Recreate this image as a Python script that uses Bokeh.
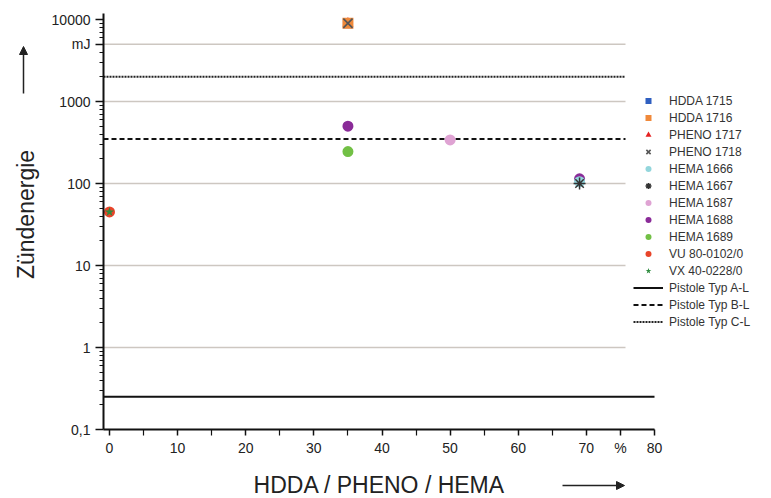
import math
from bokeh.plotting import figure
from bokeh.models import (FixedTicker, Legend, LegendItem, Arrow, NormalHead,
                          Range1d, Label, LinearAxis, LogAxis)
from bokeh.embed import file_html
from bokeh.resources import INLINE

# ---- data ----
series_names = ["HDDA 1715", "HDDA 1716", "PHENO 1717", "PHENO 1718", "HEMA 1666",
                "HEMA 1667", "HEMA 1687", "HEMA 1688", "HEMA 1689",
                "VU 80-0102/0", "VX 40-0228/0"]
hdda_1715_x = [35];  hdda_1715_y = [9000]
hdda_1716_x = [35];  hdda_1716_y = [9000]
pheno_1717_x = [35]; pheno_1717_y = [9000]
pheno_1718_x = [35]; pheno_1718_y = [9000]
hema_1666_x = [69];  hema_1666_y = [105]
hema_1667_x = [69];  hema_1667_y = [100]
hema_1687_x = [50];  hema_1687_y = [340]
hema_1688_x = [35, 69]; hema_1688_y = [500, 114]
hema_1689_x = [35];  hema_1689_y = [245]
vu_x = [0]; vu_y = [45]
vx_x = [0]; vx_y = [45]

pistole_names = ["Pistole Typ A-L", "Pistole Typ B-L", "Pistole Typ C-L"]
pistole_values = [0.25, 350, 2000]

x_ticks = [0, 10, 20, 30, 40, 50, 60, 70, 75, 80]
x_tick_labels = ["0", "10", "20", "30", "40", "50", "60", "70", "%", "80"]
x_minor_ticks = [5, 15, 25, 35, 45, 55, 65]
y_ticks = [0.1, 1, 10, 100, 1000, 5000, 10000]
y_tick_labels = ["0,1", "1", "10", "100", "1000", "mJ", "10000"]
grid_values = [1, 10, 100, 1000, 5000]

x_title = "HDDA / PHENO / HEMA"
y_title = "Zündenergie"

# ---- layout: the frame covers the whole canvas, axes are pinned inside it ----
W, H = 763, 497
FONT = "Liberation Sans"
PX_PER_X = (654 - 109) / 80.0       # canvas px per x unit
PX_PER_DEC = 82.0                   # canvas px per decade
X_ORIGIN_PX, Y_ORIGIN_PX = 109, 429  # canvas position of x=0, y=0.1

def xd(px):
    return (px - X_ORIGIN_PX) / PX_PER_X
def yd(py):
    return 10 ** (-1 + (Y_ORIGIN_PX - py) / PX_PER_DEC)

AX_X0, AX_X1 = xd(103), 80          # x-axis extent
AX_Y0, AX_Y1 = 0.1, yd(13)          # y-axis extent
GRID_END = xd(625)

p = figure(width=W, height=H, x_range=Range1d(xd(0), xd(W)), y_range=Range1d(yd(H), yd(0)),
           y_axis_type="log", x_axis_location=None, y_axis_location=None,
           output_backend="svg", toolbar_location=None,
           min_border=0, min_border_left=0, min_border_right=0,
           min_border_top=0, min_border_bottom=0)
p.outline_line_color = None
p.xgrid.visible = False
p.ygrid.visible = False

minor_y = []
for d in range(-1, 4):
    for m in range(2, 10):
        minor_y.append(m * 10 ** d)

xaxis = LinearAxis(fixed_location=AX_Y0, bounds=(AX_X0, AX_X1),
                   ticker=FixedTicker(ticks=x_ticks, minor_ticks=x_minor_ticks),
                   major_label_overrides={t: l for t, l in zip(x_ticks, x_tick_labels)})
yaxis = LogAxis(fixed_location=AX_X0, bounds=(AX_Y0, AX_Y1),
                ticker=FixedTicker(ticks=y_ticks, minor_ticks=minor_y),
                major_label_overrides={t: l for t, l in zip(y_ticks, y_tick_labels)})
for ax in (xaxis, yaxis):
    ax.axis_line_width = 2
    ax.axis_line_color = "#111111"
    ax.major_tick_line_width = 1.5
    ax.minor_tick_line_width = 1.2
    ax.major_tick_line_color = "#111111"
    ax.minor_tick_line_color = "#111111"
    ax.major_tick_in = 0
    ax.minor_tick_in = 0
    ax.major_label_text_font = FONT
    ax.major_label_text_font_size = "14px"
    ax.major_label_text_color = "#222222"
xaxis.major_tick_out = 6
xaxis.minor_tick_out = 6
xaxis.major_label_standoff = 4
yaxis.major_tick_out = 8
yaxis.minor_tick_out = 4
yaxis.major_label_standoff = 5
p.add_layout(xaxis, "below")
p.add_layout(yaxis, "left")

# horizontal grid segments
p.segment(x0=[AX_X0] * len(grid_values), x1=[GRID_END] * len(grid_values),
          y0=grid_values, y1=grid_values, line_color="#cdc7c1", line_width=1.5)

# reference lines
ra = p.line([AX_X0, AX_X1], [pistole_values[0]] * 2, line_color="#111111", line_width=2)
rb = p.line([AX_X0, GRID_END], [pistole_values[1]] * 2, line_color="#111111",
            line_width=2, line_dash="5 3")
rc = p.line([AX_X0, GRID_END], [pistole_values[2]] * 2, line_color="#222222",
            line_width=2, line_dash="2 1")

# markers (drawing order chosen so the visible stacking matches the reference)
SZ = 11
r1 = p.scatter(hdda_1715_x, hdda_1715_y, marker="square", size=10, fill_color="#2f5fc0", line_color=None)
r3 = p.scatter(pheno_1717_x, pheno_1717_y, marker="triangle", size=11, fill_color="#e52222", line_color=None)
r2 = p.scatter(hdda_1716_x, hdda_1716_y, marker="square", size=11, fill_color="#f0893a", line_color=None)
r4 = p.scatter(pheno_1718_x, pheno_1718_y, marker="x", size=13, line_color="#555555", line_width=1.6)
r7 = p.scatter(hema_1687_x, hema_1687_y, marker="circle", size=SZ, fill_color="#dfa3d3", line_color=None)
r8 = p.scatter(hema_1688_x, hema_1688_y, marker="circle", size=SZ, fill_color="#8a2b98", line_color=None)
r9 = p.scatter(hema_1689_x, hema_1689_y, marker="circle", size=SZ, fill_color="#72c045", line_color=None)
r5 = p.scatter(hema_1666_x, hema_1666_y, marker="circle", size=SZ, fill_color="#93d6dc", line_color=None)
r6 = p.scatter(hema_1667_x, hema_1667_y, marker="asterisk", size=12, line_color="#333333", line_width=1.5)
r10 = p.scatter(vu_x, vu_y, marker="circle", size=SZ, fill_color="#e8442a", line_color=None)
r11 = p.scatter(vx_x, vx_y, marker="star", size=10, fill_color="#2e8b3e", line_color=None)

marker_renderers = [r1, r2, r3, r4, r5, r6, r7, r8, r9, r10, r11]
items = [LegendItem(label=n, renderers=[r]) for n, r in zip(series_names, marker_renderers)]
items += [LegendItem(label=n, renderers=[r]) for n, r in zip(pistole_names, [ra, rb, rc])]

LEG_TOP = 93
LEG_H = 14 * 15 + 13 * 2
legend = Legend(items=items, location=(633, H - LEG_TOP - LEG_H), orientation="vertical",
                label_text_font=FONT, label_text_font_size="12px", label_text_color="#333333",
                glyph_width=30, glyph_height=15, label_height=15, spacing=2,
                label_standoff=6, padding=0, margin=0,
                border_line_alpha=0, background_fill_alpha=0)
p.add_layout(legend)

# axis titles and arrows
p.add_layout(Label(x=xd(379), y=yd(484), text=x_title, text_align="center",
                   text_baseline="middle", text_font=FONT, text_font_size="23px",
                   text_color="#222222"))
p.add_layout(Label(x=xd(25), y=yd(214), text=y_title, text_align="center",
                   text_baseline="middle", angle=math.pi / 2, text_font=FONT,
                   text_font_size="23px", text_color="#222222"))
p.add_layout(Arrow(x_start=xd(23), y_start=yd(93), x_end=xd(23), y_end=yd(46),
                   line_width=1.5, line_color="#222222",
                   end=NormalHead(size=8, fill_color="#222222", line_color="#222222")))
p.add_layout(Arrow(x_start=xd(562), y_start=yd(485), x_end=xd(624), y_end=yd(485),
                   line_width=1.5, line_color="#222222",
                   end=NormalHead(size=8, fill_color="#222222", line_color="#222222")))

open("out.html", "w").write(file_html(p, INLINE))
